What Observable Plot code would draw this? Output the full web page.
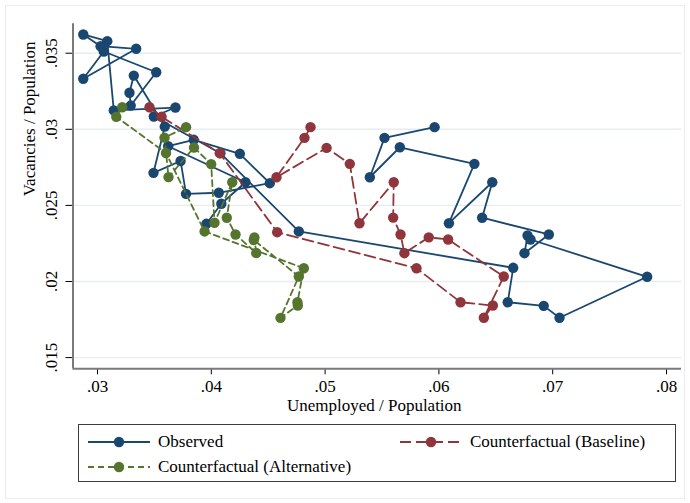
<!DOCTYPE html>
<html><head><meta charset="utf-8">
<script src="https://cdn.jsdelivr.net/npm/d3@7"></script>
<script src="https://cdn.jsdelivr.net/npm/@observablehq/plot@0.6"></script>
<style>
body{margin:0;background:#fff;}
#wrap{position:relative;width:690px;height:503px;background:#fff;font-family:"Liberation Serif","Times New Roman",serif;overflow:hidden;}
#frame{position:absolute;left:5px;top:5px;width:678px;height:492px;border:1px solid #e6eef0;}
#chart{position:absolute;left:0;top:0;}
#legend{position:absolute;left:78px;top:424px;width:598px;height:58px;border:1px solid #3c3c3c;box-sizing:border-box;background:#fff;}
.item{position:absolute;display:flex;align-items:center;height:22px;font-size:17px;color:#000;white-space:nowrap;}
.item svg{margin-right:8px;}
</style></head>
<body><div id="wrap"><div id="frame"></div><div id="chart"></div><div id="legend"></div></div>
<script>
// Observed (unemployed/population, vacancies/population)
const obsU = [0.03957,0.04088,0.04300,0.03621,0.03846,0.04251,0.04514,0.04066,0.03778,0.03730,0.03492,0.03591,
  0.03319,0.03281,0.03292,0.03516,0.03055,0.02875,0.03340,0.03027,0.02875,0.03086,0.03143,
  0.03685,0.03495,0.04080,0.04769,0.06653,0.06605,0.06921,0.07060,0.07830,0.06805,0.06779,0.06752,0.06966,
  0.06380,0.06469,0.06088,0.06312,0.05657,0.05393,0.05522,0.05962];
const obsV = [0.02379,0.02511,0.02652,0.02889,0.02931,0.02839,0.02646,0.02583,0.02576,0.02792,0.02714,0.03018,
  0.03353,0.03240,0.03156,0.03375,0.03511,0.03332,0.03529,0.03546,0.03623,0.03579,0.03124,
  0.03143,0.03084,0.02843,0.02329,0.02090,0.01864,0.01840,0.01762,0.02031,0.02276,0.02302,0.02186,0.02309,
  0.02419,0.02652,0.02383,0.02773,0.02882,0.02685,0.02944,0.03014];
// Counterfactual (Baseline)
const baseU = [0.03457,0.03563,0.04074,0.04579,0.05803,0.06190,0.06474,0.06395,0.06570,0.06081,0.05911,
  0.05697,0.05663,0.05598,0.05603,0.05302,0.05217,0.05013,0.04573,0.04819,0.04872];
const baseV = [0.03145,0.03082,0.02843,0.02324,0.02087,0.01864,0.01842,0.01762,0.02033,0.02276,0.02290,
  0.02186,0.02309,0.02420,0.02652,0.02383,0.02773,0.02878,0.02685,0.02944,0.03014];
// Counterfactual (Alternative)
const altU = [0.03217,0.03165,0.03602,0.03941,0.04813,0.04757,0.04760,0.04608,0.04769,0.04373,0.04379,
  0.04395,0.04213,0.04136,0.04184,0.04028,0.03999,0.03848,0.03624,0.03589,0.03778];
const altV = [0.03145,0.03082,0.02844,0.02329,0.02087,0.01864,0.01842,0.01761,0.02033,0.02273,0.02289,
  0.02187,0.02309,0.02419,0.02652,0.02386,0.02771,0.02880,0.02686,0.02945,0.03014];

const xTicks = [0.03,0.04,0.05,0.06,0.07,0.08];
const xTickLabels = [".03",".04",".05",".06",".07",".08"];
const yTicks = [0.015,0.02,0.025,0.03,0.035];
const yTickLabels = [".015",".02",".025",".03",".035"];
const xTitle = "Unemployed / Population";
const yTitle = "Vacancies / Population";
const seriesNames = ["Observed","Counterfactual (Baseline)","Counterfactual (Alternative)"];
const seriesColors = ["#1a476f","#90353b","#55752f"];
const seriesDash = [null,"11,5","6,4"];

const xDomain = [0.027847, 0.081494];
const yDomain = [0.014264, 0.036932];

const toRows = (U, V) => U.map((u, i) => ({u, v: V[i]}));
const obs = toRows(obsU, obsV), base = toRows(baseU, baseV), alt = toRows(altU, altV);
const series = [obs, base, alt];

const seriesMarks = series.flatMap((data, k) => [
  Plot.line(data, {x: "u", y: "v", stroke: seriesColors[k], strokeWidth: 1.8,
    strokeDasharray: seriesDash[k] || undefined, strokeLinejoin: "round"}),
  Plot.dot(data, {x: "u", y: "v", r: 5.2, fill: seriesColors[k], stroke: "none"})
]);

const chart = Plot.plot({
  width: 690, height: 418,
  marginLeft: 72.5, marginRight: 9, marginTop: 23.3, marginBottom: 49.7,
  x: {domain: [xDomain[0], 0.081318]}, y: {domain: yDomain},
  style: {fontFamily: "Liberation Serif, Times New Roman, serif", fontSize: "17px", background: "transparent", color: "#000", overflow: "visible"},
  marks: [
    Plot.gridY(yTicks, {stroke: "#e6eef0", strokeOpacity: 1, strokeWidth: 1.4}),
    Plot.axisY(yTicks, {tickSize: 7, tickFormat: () => "", label: null, stroke: "#000"}),
    Plot.axisX(xTicks, {tickSize: 6, tickFormat: () => "", label: null, stroke: "#000"}),
    Plot.ruleX([xDomain[0]], {stroke: "#7a7a7a", strokeWidth: 2}),
    Plot.ruleY([yDomain[0]], {stroke: "#7a7a7a", strokeWidth: 2}),
    Plot.text(yTicks, {y: d => d, text: (d, i) => yTickLabels[i], frameAnchor: "left", dx: -21,
      rotate: -90, textAnchor: "middle", lineAnchor: "middle", fontSize: 17, fill: "#000"}),
    Plot.text(xTicks, {x: d => d, text: (d, i) => xTickLabels[i], frameAnchor: "bottom", dy: 18,
      textAnchor: "middle", lineAnchor: "middle", fontSize: 17, fill: "#000"}),
    Plot.text([xTitle], {frameAnchor: "bottom", dy: 37, dx: -3, lineAnchor: "middle", fontSize: 17, fill: "#000"}),
    Plot.text([yTitle], {frameAnchor: "left", dx: -43, rotate: -90, lineAnchor: "middle", fontSize: 17, fill: "#000"}),
    ...seriesMarks
  ]
});
document.getElementById("chart").appendChild(chart);

// legend
const legend = document.getElementById("legend");
const pos = [{left: 9, top: 6}, {left: 321, top: 6}, {left: 9, top: 31}];
seriesNames.forEach((name, k) => {
  const div = document.createElement("div");
  div.className = "item";
  div.style.left = pos[k].left + "px";
  div.style.top = pos[k].top + "px";
  const ns = "http://www.w3.org/2000/svg";
  const svg = document.createElementNS(ns, "svg");
  svg.setAttribute("width", 62); svg.setAttribute("height", 22);
  const ln = document.createElementNS(ns, "line");
  ln.setAttribute("x1", 0); ln.setAttribute("x2", 62); ln.setAttribute("y1", 11); ln.setAttribute("y2", 11);
  ln.setAttribute("stroke", seriesColors[k]); ln.setAttribute("stroke-width", 1.8);
  if (seriesDash[k]) ln.setAttribute("stroke-dasharray", seriesDash[k]);
  const c = document.createElementNS(ns, "circle");
  c.setAttribute("cx", 31); c.setAttribute("cy", 11); c.setAttribute("r", 5.2); c.setAttribute("fill", seriesColors[k]);
  svg.appendChild(ln); svg.appendChild(c);
  const span = document.createElement("span");
  span.textContent = name;
  div.appendChild(svg); div.appendChild(span);
  legend.appendChild(div);
});
</script>
</body></html>
